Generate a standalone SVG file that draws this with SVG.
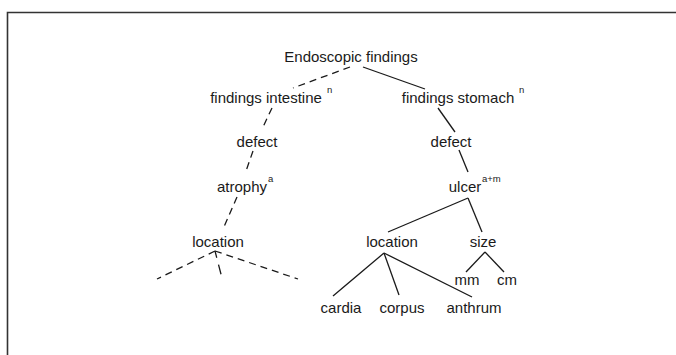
<svg xmlns="http://www.w3.org/2000/svg" width="676" height="355" viewBox="0 0 676 355">
<style>
text{font-family:"Liberation Sans",Arial,sans-serif;font-size:15px;fill:#1a1a1a;text-anchor:middle}
.sup{font-size:9.5px;text-anchor:start}
.c line{stroke:#1a1a1a;stroke-width:1.3;fill:none}
.c .d{stroke-dasharray:7,5}
</style>
<rect width="676" height="355" fill="#fff"/>
<g id="frame" fill="none" stroke="#333" stroke-width="1.6">
<path d="M7.5 355 V12.5 H676"/>
</g>
<g class="c" id="connectors">
<line class="d" x1="350" y1="67" x2="293" y2="88"/>
<line x1="363" y1="67" x2="425" y2="89"/>
<line class="d" x1="272" y1="108" x2="263" y2="127"/>
<line class="d" x1="253" y1="151" x2="246" y2="171"/>
<line class="d" x1="237" y1="197" x2="223" y2="229"/>
<line class="d" x1="215" y1="251" x2="157" y2="279"/>
<line class="d" x1="215" y1="251" x2="222" y2="278" style="stroke-dasharray:7,7,10"/>
<line class="d" x1="215" y1="251" x2="298" y2="279"/>
<line x1="438" y1="108" x2="455" y2="132"/>
<line x1="459" y1="150" x2="468" y2="172"/>
<line x1="468" y1="198" x2="388" y2="232"/>
<line x1="468" y1="198" x2="482" y2="232"/>
<line x1="384" y1="253" x2="333" y2="296"/>
<line x1="384" y1="253" x2="399" y2="295"/>
<line x1="384" y1="253" x2="472" y2="297"/>
<line x1="485" y1="252" x2="466" y2="272"/>
<line x1="485" y1="252" x2="504" y2="272"/>
</g>
<g id="n-root"><text x="351" y="62">Endoscopic findings</text></g>
<g id="n-int"><text x="266" y="103">findings intestine</text><text class="sup" x="327" y="93">n</text></g>
<g id="n-sto"><text x="458" y="103">findings stomach</text><text class="sup" x="519" y="93">n</text></g>
<g id="n-def1"><text x="257" y="147">defect</text></g>
<g id="n-def2"><text x="451" y="147">defect</text></g>
<g id="n-atr"><text x="242" y="192">atrophy</text><text class="sup" x="268" y="182">a</text></g>
<g id="n-ulc"><text x="465" y="192">ulcer</text><text class="sup" x="482" y="182">a+m</text></g>
<g id="n-loc1"><text x="218" y="247">location</text></g>
<g id="n-loc2"><text x="392" y="247">location</text></g>
<g id="n-size"><text x="483" y="247">size</text></g>
<g id="n-mm"><text x="467" y="285">mm</text></g>
<g id="n-cm"><text x="507" y="285">cm</text></g>
<g id="n-car"><text x="341" y="313">cardia</text></g>
<g id="n-cor"><text x="402" y="313">corpus</text></g>
<g id="n-ant"><text x="474" y="313">anthrum</text></g>
</svg>
